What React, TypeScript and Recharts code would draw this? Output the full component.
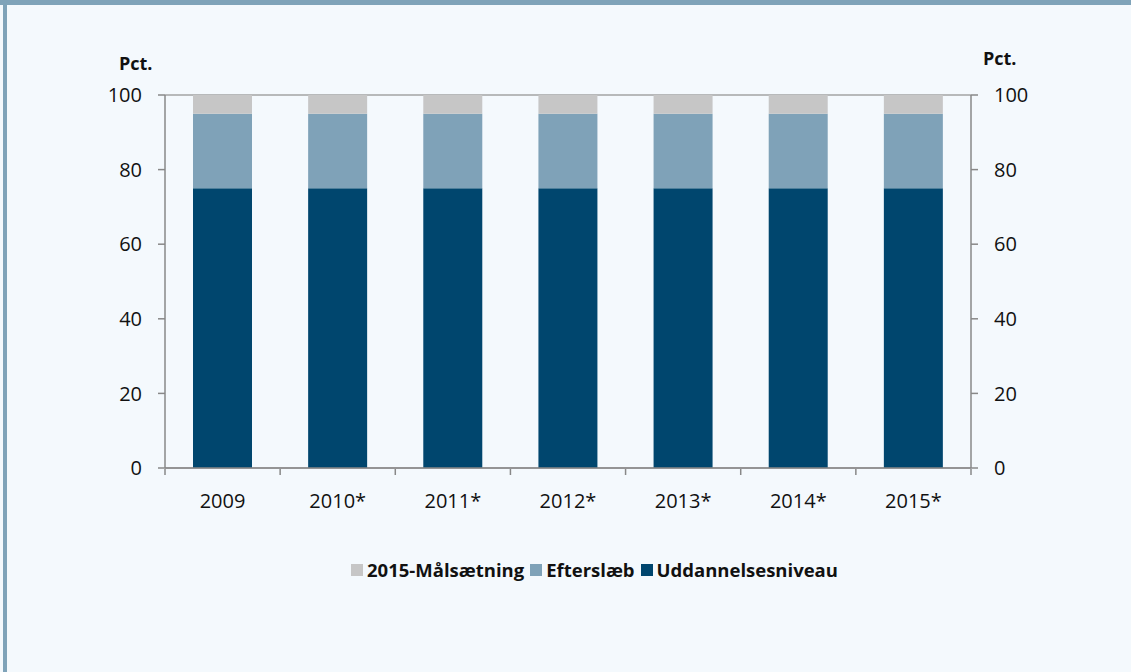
import React from "react";
import { BarChart, Bar, XAxis, YAxis, CartesianGrid, Legend } from "recharts";

const categories = ["2009", "2010*", "2011*", "2012*", "2013*", "2014*", "2015*"];
const uddannelsesniveau = [75, 75, 75, 75, 75, 75, 75];
const efterslaeb = [20, 20, 20, 20, 20, 20, 20];
const maalsaetning = [5, 5, 5, 5, 5, 5, 5];
const yTicks = [0, 20, 40, 60, 80, 100];
const categoryBoundaries = [0, 1, 2, 3, 4, 5, 6, 7];

const seriesInfo = [
  { key: "maal", name: "2015-Målsætning", color: "#c6c6c6" },
  { key: "efter", name: "Efterslæb", color: "#7fa2b8" },
  { key: "udd", name: "Uddannelsesniveau", color: "#00466e" },
];

const data = categories.map((c, i) => ({
  year: c,
  idx: i + 0.5,
  udd: uddannelsesniveau[i],
  efter: efterslaeb[i],
  maal: maalsaetning[i],
}));

const FONT = "'Open Sans', sans-serif";

const LegendContent = () => (
  <div
    style={{
      display: "flex",
      justifyContent: "center",
      alignItems: "center",
      fontFamily: FONT,
      fontWeight: 700,
      fontSize: 18.5,
      color: "#111",
      paddingLeft: 64,
    }}
  >
    {seriesInfo.map((s) => (
      <span key={s.key} style={{ display: "inline-flex", alignItems: "center", marginRight: 6 }}>
        <span style={{ width: 12, height: 12, background: s.color, display: "inline-block", marginRight: 4 }} />
        {s.name}
      </span>
    ))}
  </div>
);

const EmptyTick = () => <g />;

export default function App() {
  const tickStyle = { fill: "#111", fontSize: 20, fontFamily: FONT };
  return (
    <div
      style={{
        position: "absolute",
        left: 0,
        top: 0,
        width: 1131,
        height: 672,
        background: "#f4f9fd",
        overflow: "hidden",
      }}
    >
      <div style={{ position: "absolute", left: 0, top: 0, width: 1131, height: 5, background: "#7fa3b9" }} />
      <div style={{ position: "absolute", left: 3, top: 0, width: 4, height: 672, background: "#7fa3b9" }} />
      <div style={{ position: "absolute", left: 119, top: 51, fontFamily: FONT, fontWeight: 700, fontSize: 18, color: "#111" }}>
        Pct.
      </div>
      <div style={{ position: "absolute", left: 983, top: 46, fontFamily: FONT, fontWeight: 700, fontSize: 18, color: "#111" }}>
        Pct.
      </div>
      <div style={{ position: "absolute", left: 0, top: 0 }}>
        <BarChart
          width={1131}
          height={672}
          data={data}
          margin={{ top: 95, right: 0, left: 0, bottom: 177 }}
        >
          <CartesianGrid vertical={false} stroke="#a3a3a3" strokeWidth={1.5} />
          <XAxis
            xAxisId="bounds"
            type="number"
            dataKey="idx"
            domain={[0, 7]}
            ticks={categoryBoundaries}
            allowDataOverflow
            height={1}
            tick={EmptyTick}
            axisLine={false}
            tickLine={{ stroke: "#888", strokeWidth: 1.5 }}
            tickSize={6}
            interval={0}
          />
          <XAxis
            dataKey="year"
            tick={tickStyle}
            tickLine={false}
            axisLine={{ stroke: "#888", strokeWidth: 1.5 }}
            tickSize={6}
            tickMargin={20}
            height={1}
            interval={0}
          />
          <YAxis
            yAxisId="left"
            orientation="left"
            domain={[0, 100]}
            ticks={yTicks}
            width={165}
            tick={tickStyle}
            tickLine={{ stroke: "#888", strokeWidth: 1.5 }}
            axisLine={{ stroke: "#888", strokeWidth: 1.5 }}
            tickSize={7}
            tickMargin={16}
          />
          <YAxis
            yAxisId="right"
            orientation="right"
            domain={[0, 100]}
            ticks={yTicks}
            width={160}
            tick={{ ...tickStyle, textAnchor: "start" }}
            tickLine={{ stroke: "#888", strokeWidth: 1.5 }}
            axisLine={{ stroke: "#888", strokeWidth: 1.5 }}
            tickSize={7}
            tickMargin={16}
            allowDataOverflow
          />
          <Legend
            verticalAlign="bottom"
            align="center"
            wrapperStyle={{ top: 557, left: 0, width: 1131 }}
            content={LegendContent}
          />
          <Bar yAxisId="left" dataKey="udd" name="Uddannelsesniveau" stackId="a" fill="#00466e" barSize={59} isAnimationActive={false} />
          <Bar yAxisId="left" dataKey="efter" name="Efterslæb" stackId="a" fill="#7fa2b8" barSize={59} isAnimationActive={false} />
          <Bar yAxisId="left" dataKey="maal" name="2015-Målsætning" stackId="a" fill="#c6c6c6" barSize={59} isAnimationActive={false} />
        </BarChart>
      </div>
    </div>
  );
}
